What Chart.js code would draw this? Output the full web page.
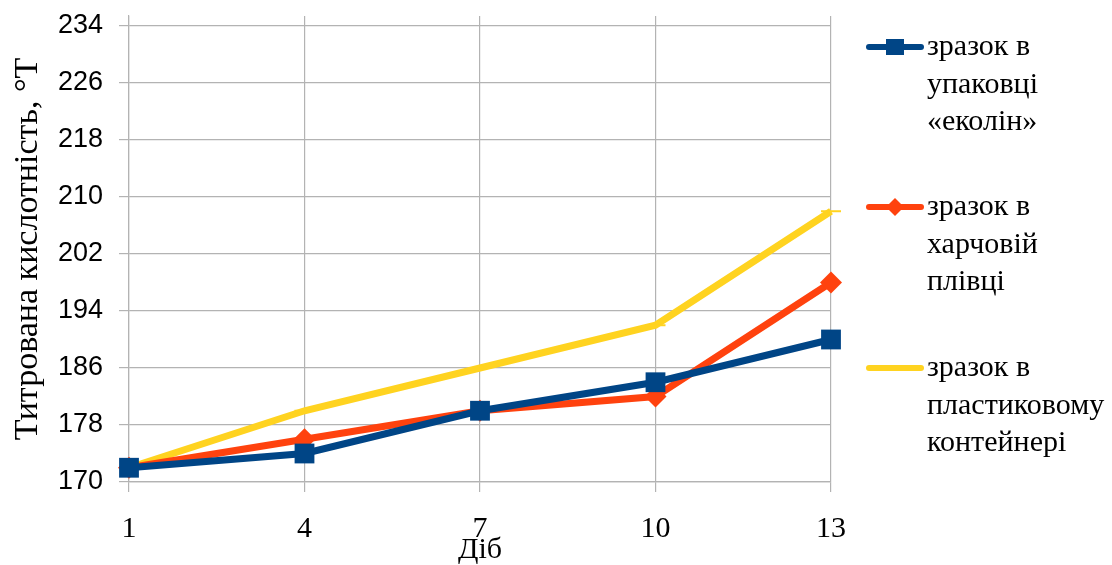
<!DOCTYPE html>
<html>
<head>
<meta charset="utf-8">
<script src="https://cdn.jsdelivr.net/npm/chart.js@4"></script>
<style>
  html, body { margin: 0; padding: 0; background: #fff; }
  #wrap { width: 1112px; height: 565px; }
</style>
</head>
<body>
<div id="wrap"><canvas id="chart" width="1112" height="565"></canvas></div>
<script>
// days
const days = ['1', '4', '7', '10', '13'];
// titrated acidity, °T
const ecolin = [172, 174, 180, 184, 190];
const foodFilm = [172, 176, 180, 182, 198];
const plasticBox = [172, 180, 186, 192, 208];

const seriesNames = [
    ['зразок в', 'упаковці', '«еколін»'],
    ['зразок в', 'харчовій', 'плівці'],
    ['зразок в', 'пластиковому', 'контейнері']
];
const yTitle = 'Титрована кислотність, °Т';
const xTitle = 'Діб';
const yMin = 170, yTop = 234, yLabelStep = 8, yGridStep = 4;

const gridColor = '#b3b3b3';
const serif = '"Liberation Serif", "DejaVu Serif", serif';
const sans = '"Liberation Sans", Arial, sans-serif';

// legend drawn by hand, the labels run over three lines
const sideLegend = {
    id: 'sideLegend',
    afterDraw(chart) {
        const ctx = chart.ctx;
        const rows = [47, 207, 368];
        ctx.save();
        chart.data.datasets.forEach((ds, i) => {
            const y = rows[i];
            ctx.strokeStyle = ds.borderColor;
            ctx.lineWidth = 6;
            ctx.lineCap = 'round';
            ctx.beginPath();
            ctx.moveTo(869, y);
            ctx.lineTo(921, y);
            ctx.stroke();
            if (ds.pointStyle === 'rect') {
                ctx.fillStyle = ds.borderColor;
                ctx.fillRect(886, y - 8, 18, 16);
            } else if (ds.pointStyle === 'rectRot') {
                ctx.fillStyle = ds.borderColor;
                ctx.beginPath();
                ctx.moveTo(895, y - 9);
                ctx.lineTo(904, y);
                ctx.lineTo(895, y + 9);
                ctx.lineTo(886, y);
                ctx.closePath();
                ctx.fill();
            }
            ctx.fillStyle = '#000';
            ctx.font = '30px ' + serif;
            ctx.textBaseline = 'alphabetic';
            ctx.textAlign = 'left';
            seriesNames[i].forEach((line, k) => {
                ctx.fillText(line, 927, y + 8 + k * 37.5);
            });
        });
        ctx.restore();
    }
};

new Chart(document.getElementById('chart'), {
    type: 'line',
    data: {
        labels: days,
        datasets: [{
            label: seriesNames[0].join(' '),
            data: ecolin,
            borderColor: '#004586',
            backgroundColor: '#004586',
            borderWidth: 7,
            pointStyle: 'rect',
            pointRadius: 14,
            pointBorderWidth: 0
        }, {
            label: seriesNames[1].join(' '),
            data: foodFilm,
            borderColor: '#ff420e',
            backgroundColor: '#ff420e',
            borderWidth: 7,
            pointStyle: 'rectRot',
            pointRadius: 11,
            pointBorderWidth: 0
        }, {
            label: seriesNames[2].join(' '),
            data: plasticBox,
            borderColor: '#ffd320',
            backgroundColor: '#ffd320',
            borderWidth: 7,
            pointStyle: 'line',
            pointRadius: 10,
            pointBorderWidth: 2
        }]
    },
    options: {
        responsive: false,
        animation: false,
        layout: { padding: { left: 0, top: 0, right: 281, bottom: 0 } },
        plugins: {
            legend: { display: false },
            tooltip: { enabled: false }
        },
        scales: {
            x: {
                offset: false,
                grid: { color: gridColor, lineWidth: 1.2, tickLength: 10, tickColor: gridColor },
                border: { color: gridColor, width: 1.2 },
                ticks: { color: '#000', font: { family: serif, size: 30 }, padding: 19, maxRotation: 0 },
                title: { display: true, text: xTitle, color: '#000', font: { family: serif, size: 30 }, padding: { top: 0, bottom: -3 } },
                afterFit: s => { s.height = 565 - 482; s.paddingLeft = 0; s.paddingRight = 0; }
            },
            y: {
                min: yMin,
                max: 235.4,
                afterBuildTicks: s => {
                    const t = [];
                    for (let v = yMin; v <= yTop; v += yGridStep) t.push({ value: v });
                    s.ticks = t;
                },
                grid: {
                    color: gridColor,
                    lineWidth: 1.2,
                    tickLength: 10,
                    tickColor: c => (c.tick && (c.tick.value - yMin) % yLabelStep === 0) ? gridColor : 'rgba(0,0,0,0)'
                },
                border: { color: gridColor, width: 1.2 },
                ticks: {
                    color: '#000',
                    padding: 16,
                    font: { family: sans, size: 27 },
                    callback: v => ((v - yMin) % yLabelStep === 0) ? String(v) : ''
                },
                title: { display: true, text: yTitle, color: '#000', font: { family: serif, size: 34 }, padding: { top: 8, bottom: 0 } },
                afterFit: s => { s.width = 129; s.paddingTop = 16; s.paddingBottom = 0; }
            }
        }
    },
    plugins: [sideLegend]
});
</script>
</body>
</html>
